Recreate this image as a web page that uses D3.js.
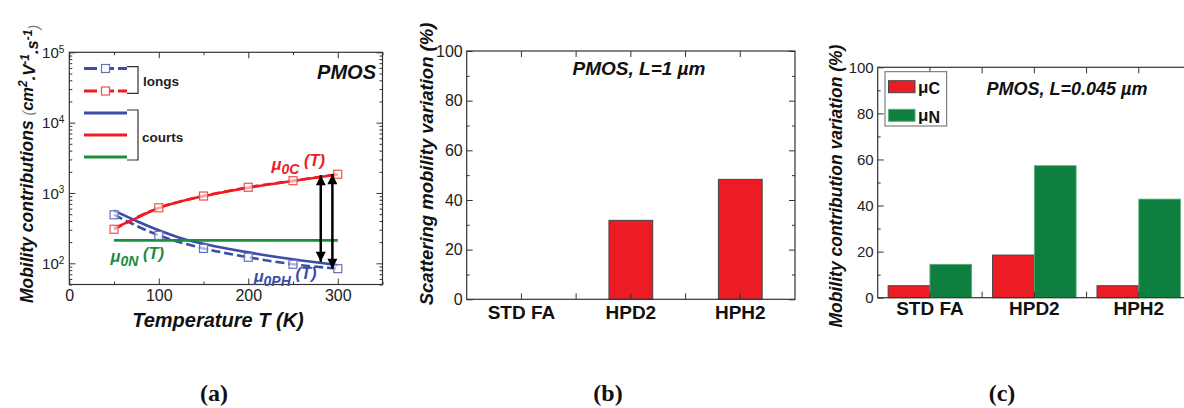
<!DOCTYPE html>
<html><head><meta charset="utf-8">
<script src="https://cdn.jsdelivr.net/npm/d3@7"></script>
<style>
body{margin:0;background:#fff}
svg{display:block}
text{font-family:Arial,"Liberation Sans",sans-serif}
</style>
</head><body>
<svg id="chart" width="1184" height="408"></svg>
<script>
// ---------- data: panel (a) ----------
const tempLong = [50,100,150,200,250,300];
const phononLong = [490,250,163,122,97,84];
const coulombLong = [305,615,905,1205,1495,1845];
const tempShort = [50,75,100,125,150,200,250,300];
const phononShort = [560,400,295,228,190,143,114,94];
const coulombShort = [315,440,610,760,900,1190,1480,1830];
const tempNeutral = [50,300];
const neutralShort = [212,212];
const arrowTemp = [281,294];
const arrowTop = [1780,1850];
const arrowBottom = [105,84];
const xTicksA = [0,100,200,300];
const xMinorA = [50,150,250,350];
const yTicksA = [1e2,1e3,1e4,1e5];
const yExpA = ["2","3","4","5"];

// ---------- data: panels (b) & (c) ----------
const splitCats = ["STD FA","HPD2","HPH2"];
const scatteringVar = [0,31.8,48.3];
const coulombVar = [5.2,18.5,5.2];
const neutralVar = [14.5,57.3,42.8];
const pctTicks = [0,20,40,60,80,100];
const pctMinor = [10,30,50,70,90];
const panelLabels = ["(a)","(b)","(c)"];

const RED = "#ED1C24", BLUE = "#3B4DA8", GREEN_A = "#1A8E3C", GREEN_C = "#0F7F3F";
const AX = "#333", TXT = "#222";

const svg = d3.select("#chart");
const defs = svg.append("defs");
defs.append("marker").attr("id","ah").attr("viewBox","0 0 10 10")
  .attr("refX",10).attr("refY",5).attr("markerWidth",5.6).attr("markerHeight",4)
  .attr("orient","auto-start-reverse")
  .append("path").attr("d","M0,0L10,5L0,10z").attr("fill","#000");

function styleAxis(g, fs){
  g.select(".domain").remove();
  g.selectAll(".tick line").attr("stroke",AX).attr("stroke-width",1);
  g.selectAll(".tick text").attr("fill",TXT).style("font-size",fs+"px");
}

// ================= Panel (a) =================
const xA = d3.scaleLinear([0,350],[69.3,382.5]);
const yA = d3.scaleLog([50,1e5],[284.5,52.3]);
const gA = svg.append("g");
const yMinorA = [];
for (let k=1;k<=4;k++) for (let m=2;m<=9;m++){const v=m*Math.pow(10,k); if(v>=50&&v<=1e5) yMinorA.push(v);}

gA.append("g").attr("transform",`translate(0,${yA.range()[0]})`)
  .call(d3.axisBottom(xA).tickValues(xTicksA).tickSize(-6).tickPadding(5))
  .call(g=>styleAxis(g,16));
gA.append("g").attr("transform",`translate(0,${yA.range()[0]})`)
  .call(d3.axisBottom(xA).tickValues(xMinorA).tickSize(-3).tickFormat(""))
  .call(g=>styleAxis(g,15));
gA.append("g").attr("transform",`translate(0,${yA.range()[1]})`)
  .call(d3.axisTop(xA).tickValues(xTicksA).tickSize(-6).tickFormat(""))
  .call(g=>styleAxis(g,15));
gA.append("g").attr("transform",`translate(0,${yA.range()[1]})`)
  .call(d3.axisTop(xA).tickValues(xMinorA).tickSize(-3).tickFormat(""))
  .call(g=>styleAxis(g,15));
const leftA = gA.append("g").attr("transform",`translate(${xA.range()[0]},0)`)
  .call(d3.axisLeft(yA).tickValues(yTicksA).tickSize(-6).tickPadding(5).tickFormat(""))
  .call(g=>styleAxis(g,15));
leftA.selectAll(".tick text").each(function(d,i){
  const t = d3.select(this).text(null).attr("dy","0.35em");
  t.append("tspan").text("10");
  t.append("tspan").attr("dy","-0.55em").style("font-size","10px").text(yExpA[i]);
});
gA.append("g").attr("transform",`translate(${xA.range()[0]},0)`)
  .call(d3.axisLeft(yA).tickValues(yMinorA).tickSize(-3).tickFormat(""))
  .call(g=>styleAxis(g,14));
gA.append("g").attr("transform",`translate(${xA.range()[1]},0)`)
  .call(d3.axisRight(yA).tickValues(yTicksA).tickSize(-6).tickFormat(""))
  .call(g=>styleAxis(g,14));
gA.append("g").attr("transform",`translate(${xA.range()[1]},0)`)
  .call(d3.axisRight(yA).tickValues(yMinorA).tickSize(-3).tickFormat(""))
  .call(g=>styleAxis(g,14));
gA.append("rect").attr("x",xA.range()[0]).attr("y",yA.range()[1])
  .attr("width",xA.range()[1]-xA.range()[0]).attr("height",yA.range()[0]-yA.range()[1])
  .attr("fill","none").attr("stroke",AX).attr("stroke-width",1.2);

const lineA = (ts,vs)=>d3.line().x((d,i)=>xA(ts[i])).y(d=>yA(d)).curve(d3.curveMonotoneX)(vs);
// long devices (dashed + squares)
gA.append("path").attr("d",lineA(tempLong,phononLong)).attr("fill","none")
  .attr("stroke",BLUE).attr("stroke-width",2.6).attr("stroke-dasharray","9,4");
gA.append("path").attr("d",lineA(tempLong,coulombLong)).attr("fill","none")
  .attr("stroke",RED).attr("stroke-width",2.6).attr("stroke-dasharray","9,4");
// short devices (solid)
gA.append("path").attr("d",lineA(tempShort,phononShort)).attr("fill","none")
  .attr("stroke",BLUE).attr("stroke-width",2.6);
gA.append("path").attr("d",lineA(tempShort,coulombShort)).attr("fill","none")
  .attr("stroke",RED).attr("stroke-width",2.6);
gA.append("path").attr("d",lineA(tempNeutral,neutralShort)).attr("fill","none")
  .attr("stroke",GREEN_A).attr("stroke-width",2.6);
// squares
const sq = 8;
gA.selectAll("rect.ph").data(phononLong).join("rect").attr("class","ph")
  .attr("x",(d,i)=>xA(tempLong[i])-sq/2).attr("y",d=>yA(d)-sq/2)
  .attr("width",sq).attr("height",sq).attr("fill","#fff").attr("fill-opacity",0.6)
  .attr("stroke","#6670C0").attr("stroke-width",1.2);
gA.selectAll("rect.co").data(coulombLong).join("rect").attr("class","co")
  .attr("x",(d,i)=>xA(tempLong[i])-sq/2).attr("y",d=>yA(d)-sq/2)
  .attr("width",sq).attr("height",sq).attr("fill","#fff").attr("fill-opacity",0.6)
  .attr("stroke","#EE5050").attr("stroke-width",1.2);
// arrows
gA.selectAll("line.arr").data(arrowTemp).join("line").attr("class","arr")
  .attr("x1",d=>xA(d)).attr("x2",d=>xA(d))
  .attr("y1",(d,i)=>yA(arrowTop[i])).attr("y2",(d,i)=>yA(arrowBottom[i]))
  .attr("stroke","#000").attr("stroke-width",2.5)
  .attr("marker-start","url(#ah)").attr("marker-end","url(#ah)");

// curve labels
function muLabel(g, x, y, sub, color){
  const t = g.append("text").attr("x",x).attr("y",y).attr("fill",color)
    .style("font-size","16.5px").style("font-weight","bold").style("font-style","italic");
  t.append("tspan").text("μ");
  t.append("tspan").attr("dy","0.3em").style("font-size","14px").text(sub);
  t.append("tspan").attr("dy","-0.45em").text(" (T)");
}
muLabel(gA, xA(226), yA(2150), "0C", RED);
muLabel(gA, xA(46), yA(104), "0N", GREEN_A);
muLabel(gA, xA(206), yA(54), "0PH", BLUE);

gA.append("text").attr("x",376).attr("y",79).attr("text-anchor","end")
  .style("font-size","20px").style("font-weight","bold").style("font-style","italic")
  .attr("fill","#111").text("PMOS");

// legend (a)
const legA = gA.append("g");
const legRows = [
  {y:68.5, c:BLUE, dash:true},{y:91, c:RED, dash:true},
  {y:113, c:BLUE},{y:135, c:RED},{y:157, c:GREEN_A}
];
legRows.forEach(r=>{
  legA.append("line").attr("x1",84).attr("x2",127).attr("y1",r.y).attr("y2",r.y)
    .attr("stroke",r.c).attr("stroke-width",2.8).attr("stroke-dasharray",r.dash?"13,4":null);
  if(r.dash) legA.append("rect").attr("x",101.5).attr("y",r.y-4).attr("width",8).attr("height",8)
    .attr("fill","#fff").attr("stroke",r.c===RED?"#EE5050":"#6670C0").attr("stroke-width",1.2);
});
legA.append("path").attr("d","M127,66.7H138V93.3H127").attr("fill","none").attr("stroke","#333").attr("stroke-width",1.2);
legA.append("path").attr("d","M127,110H138V160H127").attr("fill","none").attr("stroke","#333").attr("stroke-width",1.2);
legA.append("text").attr("x",143).attr("y",86).style("font-size","13.5px").style("font-weight","bold").attr("fill","#222").text("longs");
legA.append("text").attr("x",142).attr("y",141.5).style("font-size","13.5px").style("font-weight","bold").attr("fill","#222").text("courts");

// axis titles (a)
gA.append("text").attr("x",218).attr("y",327).attr("text-anchor","middle")
  .style("font-size","20px").style("font-weight","bold").style("font-style","italic")
  .attr("fill","#111").text("Temperature T (K)");
const ytA = gA.append("text").attr("transform","translate(33,164) rotate(-90)").attr("text-anchor","middle")
  .style("font-size","17.5px").style("font-weight","bold").style("font-style","italic").attr("fill","#111");
ytA.append("tspan").text("Mobility contributions ");
const unitA = ytA.append("tspan").style("font-size","16.5px");
unitA.append("tspan").style("font-weight","normal").style("font-size","14px").attr("fill","#777").text("(");
unitA.append("tspan").text("cm");
unitA.append("tspan").attr("dy","-0.5em").style("font-size","12px").text("2");
unitA.append("tspan").attr("dy","0.5em").text(".V");
unitA.append("tspan").attr("dy","-0.5em").style("font-size","12px").text("-1");
unitA.append("tspan").attr("dy","0.5em").text(".s");
unitA.append("tspan").attr("dy","-0.5em").style("font-size","12px").text("-1");
unitA.append("tspan").attr("dy","0.5em").style("font-weight","normal").style("font-size","14px").attr("fill","#777").text(")");

// ================= shared bar-panel frame =================
function barFrame(g, x, y, frameRight, pad, tfs){
  const bw = x.bandwidth();
  const centers = splitCats.map(c=>x(c)+bw/2);
  const bounds = splitCats.slice(1).map(c=>x(c));
  const [y0,y1] = y.range();
  const [x0] = x.range();
  g.append("g").attr("transform",`translate(${x0},0)`)
    .call(d3.axisLeft(y).tickValues(pctTicks).tickSize(-6).tickPadding(4))
    .call(a=>styleAxis(a,tfs));
  g.append("g").attr("transform",`translate(${x0},0)`)
    .call(d3.axisLeft(y).tickValues(pctMinor).tickSize(-3).tickFormat(""))
    .call(a=>styleAxis(a,15));
  g.append("g").attr("transform",`translate(${frameRight},0)`)
    .call(d3.axisRight(y).tickValues(pctTicks).tickSize(-6).tickFormat(""))
    .call(a=>styleAxis(a,15));
  g.append("g").attr("transform",`translate(${frameRight},0)`)
    .call(d3.axisRight(y).tickValues(pctMinor).tickSize(-3).tickFormat(""))
    .call(a=>styleAxis(a,15));
  [y0,y1].forEach((yy,k)=>{
    g.selectAll(null).data(centers.concat(bounds)).join("line")
      .attr("x1",d=>d).attr("x2",d=>d).attr("y1",yy).attr("y2",k===0?yy-6:yy+6)
      .attr("stroke",AX);
  });
  g.append("g").attr("transform",`translate(0,${y0})`)
    .call(d3.axisBottom(x).tickSize(0).tickPadding(pad))
    .call(a=>styleAxis(a,19))
    .call(a=>a.selectAll(".tick text").style("font-weight","bold").attr("fill","#111"));
}

// ================= Panel (b) =================
const xB = d3.scaleBand(splitCats,[466.7,795]);
const yB = d3.scaleLinear([0,100],[299.3,51]);
const gB = svg.append("g");
gB.selectAll("rect.bar").data(scatteringVar).join("rect").attr("class","bar")
  .attr("x",(d,i)=>xB(splitCats[i])+xB.bandwidth()*0.3).attr("width",xB.bandwidth()*0.4)
  .attr("y",d=>yB(d)).attr("height",d=>yB(0)-yB(d))
  .attr("fill",RED).attr("stroke",d=>d>0?"#444":"none").attr("stroke-width",1);
barFrame(gB, xB, yB, 795, 6, 16);
gB.append("rect").attr("x",466.7).attr("y",51).attr("width",795-466.7).attr("height",299.3-51)
  .attr("fill","none").attr("stroke",AX).attr("stroke-width",1.2);
gB.append("text").attr("x",639).attr("y",75).attr("text-anchor","middle")
  .style("font-size","19px").style("font-weight","bold").style("font-style","italic").attr("fill","#111")
  .text("PMOS, L=1 µm");
gB.append("text").attr("transform","translate(433,164) rotate(-90)").attr("text-anchor","middle")
  .style("font-size","18.5px").style("font-weight","bold").style("font-style","italic").attr("fill","#111")
  .text("Scattering mobility variation (%)");

// ================= Panel (c) =================
const xC = d3.scaleBand(splitCats,[877.7,1191]);
const subC = d3.scaleBand(["C","N"],[xC.bandwidth()*0.1,xC.bandwidth()*0.9]);
const yC = d3.scaleLinear([0,100],[297.7,67.3]);
const gC = svg.append("g");
gC.selectAll("rect.bc").data(coulombVar).join("rect").attr("class","bc")
  .attr("x",(d,i)=>xC(splitCats[i])+subC("C")).attr("width",subC.bandwidth())
  .attr("y",d=>yC(d)).attr("height",d=>yC(0)-yC(d))
  .attr("fill",RED).attr("stroke","#444").attr("stroke-width",1);
gC.selectAll("rect.bn").data(neutralVar).join("rect").attr("class","bn")
  .attr("x",(d,i)=>xC(splitCats[i])+subC("N")).attr("width",subC.bandwidth())
  .attr("y",d=>yC(d)).attr("height",d=>yC(0)-yC(d))
  .attr("fill",GREEN_C).attr("stroke","#5DB07A").attr("stroke-width",0.8);
barFrame(gC, xC, yC, 1191, 4, 15);
gC.append("rect").attr("x",877.7).attr("y",67.3).attr("width",1191-877.7).attr("height",297.7-67.3)
  .attr("fill","none").attr("stroke",AX).attr("stroke-width",1.2);
// legend (c)
const legC = gC.append("g");
legC.append("rect").attr("x",885).attr("y",71.7).attr("width",61.7).attr("height",54.3)
  .attr("fill","#fff").attr("stroke","#666").attr("stroke-width",1);
[{k:"C",c:RED,s:"#444",y:80.7},{k:"N",c:GREEN_C,s:"#5DB07A",y:109.3}].forEach(r=>{
  legC.append("rect").attr("x",888.5).attr("y",r.y).attr("width",26.5).attr("height",12)
    .attr("fill",r.c).attr("stroke",r.s);
  const t = legC.append("text").attr("x",918).attr("y",r.y+12).style("font-size","17px")
    .style("font-weight","bold").attr("fill","#111");
  t.append("tspan").text("μ");
  t.append("tspan").attr("dy","0.1em").style("font-size","16px").text(r.k);
});
gC.append("text").attr("x",1067).attr("y",95).attr("text-anchor","middle")
  .style("font-size","18px").style("font-weight","bold").style("font-style","italic").attr("fill","#111")
  .text("PMOS, L=0.045 µm");
gC.append("text").attr("transform","translate(842,186) rotate(-90)").attr("text-anchor","middle")
  .style("font-size","17.5px").style("font-weight","bold").style("font-style","italic").attr("fill","#111")
  .text("Mobility contribution variation (%)");

// panel letters
svg.selectAll("text.pl").data(panelLabels).join("text").attr("class","pl")
  .attr("x",(d,i)=>[214,608,1002][i]).attr("y",401).attr("text-anchor","middle")
  .style("font-family","'Liberation Serif','Times New Roman',serif").style("font-size","24px")
  .style("font-weight","bold").attr("fill","#111").text(d=>d);
</script>
</body></html>
